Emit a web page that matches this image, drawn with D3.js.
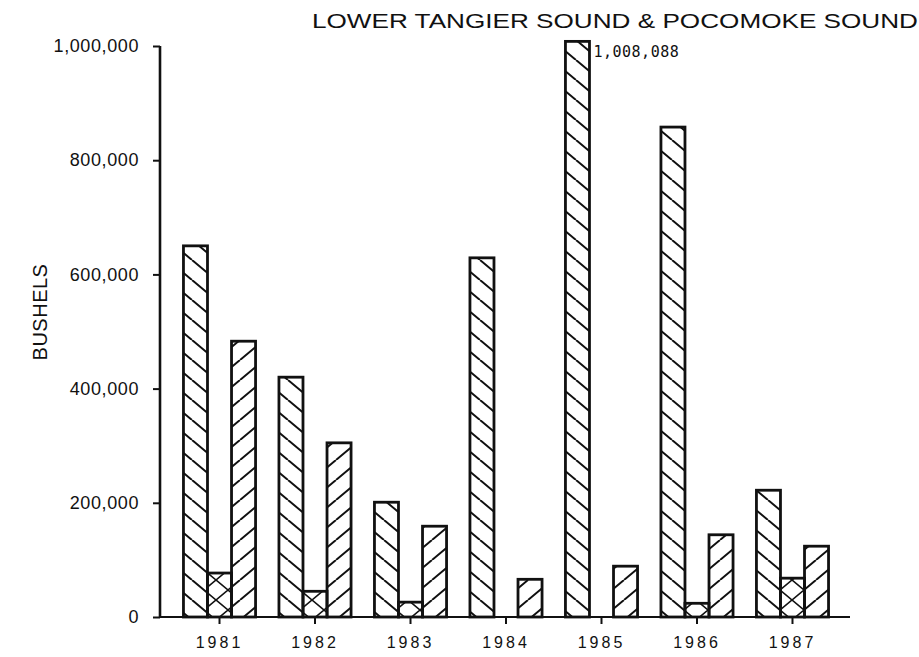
<!DOCTYPE html>
<html>
<head>
<meta charset="utf-8">
<script src="https://cdn.jsdelivr.net/npm/d3@7"></script>
<style>
  html, body { margin: 0; padding: 0; background: #fff; }
  svg { display: block; }
  text { font-family: "Liberation Sans", Arial, sans-serif; fill: #111; }
</style>
</head>
<body>
<svg id="chart" width="919" height="657"></svg>
<script>
// Harvest by year, three series per year (bushels)
const years = ["1981", "1982", "1983", "1984", "1985", "1986", "1987"];
const seriesKeys = ["a", "b", "c"];
const seriesA = [650000, 420000, 201000, 629000, 1008088, 858000, 222000];  // back-slash hatch
const seriesB = [77000, 45000, 26000, 0, 0, 24000, 68000];                 // cross hatch
const seriesC = [483000, 305000, 159000, 66000, 89000, 144000, 124000];    // forward-slash hatch
const yTicks = [0, 200000, 400000, 600000, 800000, 1000000];
const title = "LOWER TANGIER SOUND & POCOMOKE SOUND";
const yLabel = "BUSHELS";
const peakLabel = "1,008,088";

const svg = d3.select("#chart");

const y = d3.scaleLinear().domain([0, 1000000]).range([617, 46]);
const x0 = d3.scaleBand().domain(years).range([172, 840]).paddingInner(0.245).paddingOuter(0.12);
const x1 = d3.scaleBand().domain(seriesKeys).range([0, x0.bandwidth()]);

// hatch fills
const defs = svg.append("defs");
const tw = 24, th = 20;
const pBack = defs.append("pattern").attr("id", "hBack").attr("patternUnits", "userSpaceOnUse")
  .attr("width", tw).attr("height", th);
pBack.append("path").attr("d", `M0,0 L${tw},${th} M${-tw},0 L0,${th} M${tw},0 L${2*tw},${th}`)
  .attr("stroke", "#111").attr("stroke-width", 2);
const pFwd = defs.append("pattern").attr("id", "hFwd").attr("patternUnits", "userSpaceOnUse")
  .attr("width", tw).attr("height", th);
pFwd.append("path").attr("d", `M0,${th} L${tw},0 M${-tw},${th} L0,0 M${tw},${th} L${2*tw},0`)
  .attr("stroke", "#111").attr("stroke-width", 2);
const pX = defs.append("pattern").attr("id", "hCross").attr("patternUnits", "userSpaceOnUse")
  .attr("width", tw).attr("height", th);
pX.append("path").attr("d", `M0,0 L${tw},${th} M0,${th} L${tw},0`)
  .attr("stroke", "#111").attr("stroke-width", 1.6);

const fills = { a: "url(#hBack)", b: "url(#hCross)", c: "url(#hFwd)" };
const values = { a: seriesA, b: seriesB, c: seriesC };

const rows = [];
years.forEach((yr, i) => {
  seriesKeys.forEach(k => {
    if (values[k][i] > 0) rows.push({ year: yr, key: k, value: values[k][i] });
  });
});

svg.append("g").selectAll("rect").data(rows).join("rect")
  .attr("x", d => x0(d.year) + x1(d.key))
  .attr("y", d => y(d.value))
  .attr("width", x1.bandwidth())
  .attr("height", d => y(0) - y(d.value))
  .attr("fill", d => fills[d.key])
  .attr("stroke", "#111")
  .attr("stroke-width", 2.8);

// y axis
const yAxis = svg.append("g").attr("transform", "translate(160,0)")
  .call(d3.axisLeft(y).tickValues(yTicks).tickSize(7).tickPadding(14)
    .tickFormat(d3.format(",")));
yAxis.select(".domain").attr("stroke", "#111").attr("stroke-width", 2.6).attr("d", `M0,${y(1000000)}V${y(0)}`);
yAxis.selectAll(".tick line").attr("stroke", "#111").attr("stroke-width", 2);
yAxis.selectAll(".tick text").style("font-size", "18px").style("letter-spacing", "0.6px")
  .style("font-family", "'Liberation Sans', Arial, sans-serif").attr("fill", "#111");

// x axis
const xAxis = svg.append("g").attr("transform", `translate(0,${y(0)})`)
  .call(d3.axisBottom(x0).tickSize(7).tickPadding(13));
xAxis.select(".domain").attr("stroke", "#111").attr("stroke-width", 2.2).attr("d", "M160,0H850");
xAxis.selectAll(".tick line").attr("stroke", "#111").attr("stroke-width", 2);
xAxis.selectAll(".tick text").style("font-size", "16px").style("letter-spacing", "3px")
  .style("font-family", "'Liberation Sans', Arial, sans-serif").attr("fill", "#111");

// title
svg.append("text").attr("x", 312).attr("y", 28)
  .attr("textLength", 606).attr("lengthAdjust", "spacingAndGlyphs")
  .style("font-size", "21px").text(title);

// y label
svg.append("text").attr("transform", "translate(47,312) rotate(-90)")
  .attr("text-anchor", "middle").style("font-size", "20px").style("letter-spacing", "0.5px").text(yLabel);

// value label on the tallest bar
const peakIdx = seriesA.indexOf(d3.max(seriesA));
svg.append("text")
  .attr("x", x0(years[peakIdx]) + x1("a") + x1.bandwidth() + 4)
  .attr("y", y(seriesA[peakIdx]) + 16)
  .style("font-family", "'DejaVu Sans Mono', monospace").style("font-size", "15px")
  .style("letter-spacing", "0.5px")
  .text(peakLabel);
</script>
</body>
</html>
